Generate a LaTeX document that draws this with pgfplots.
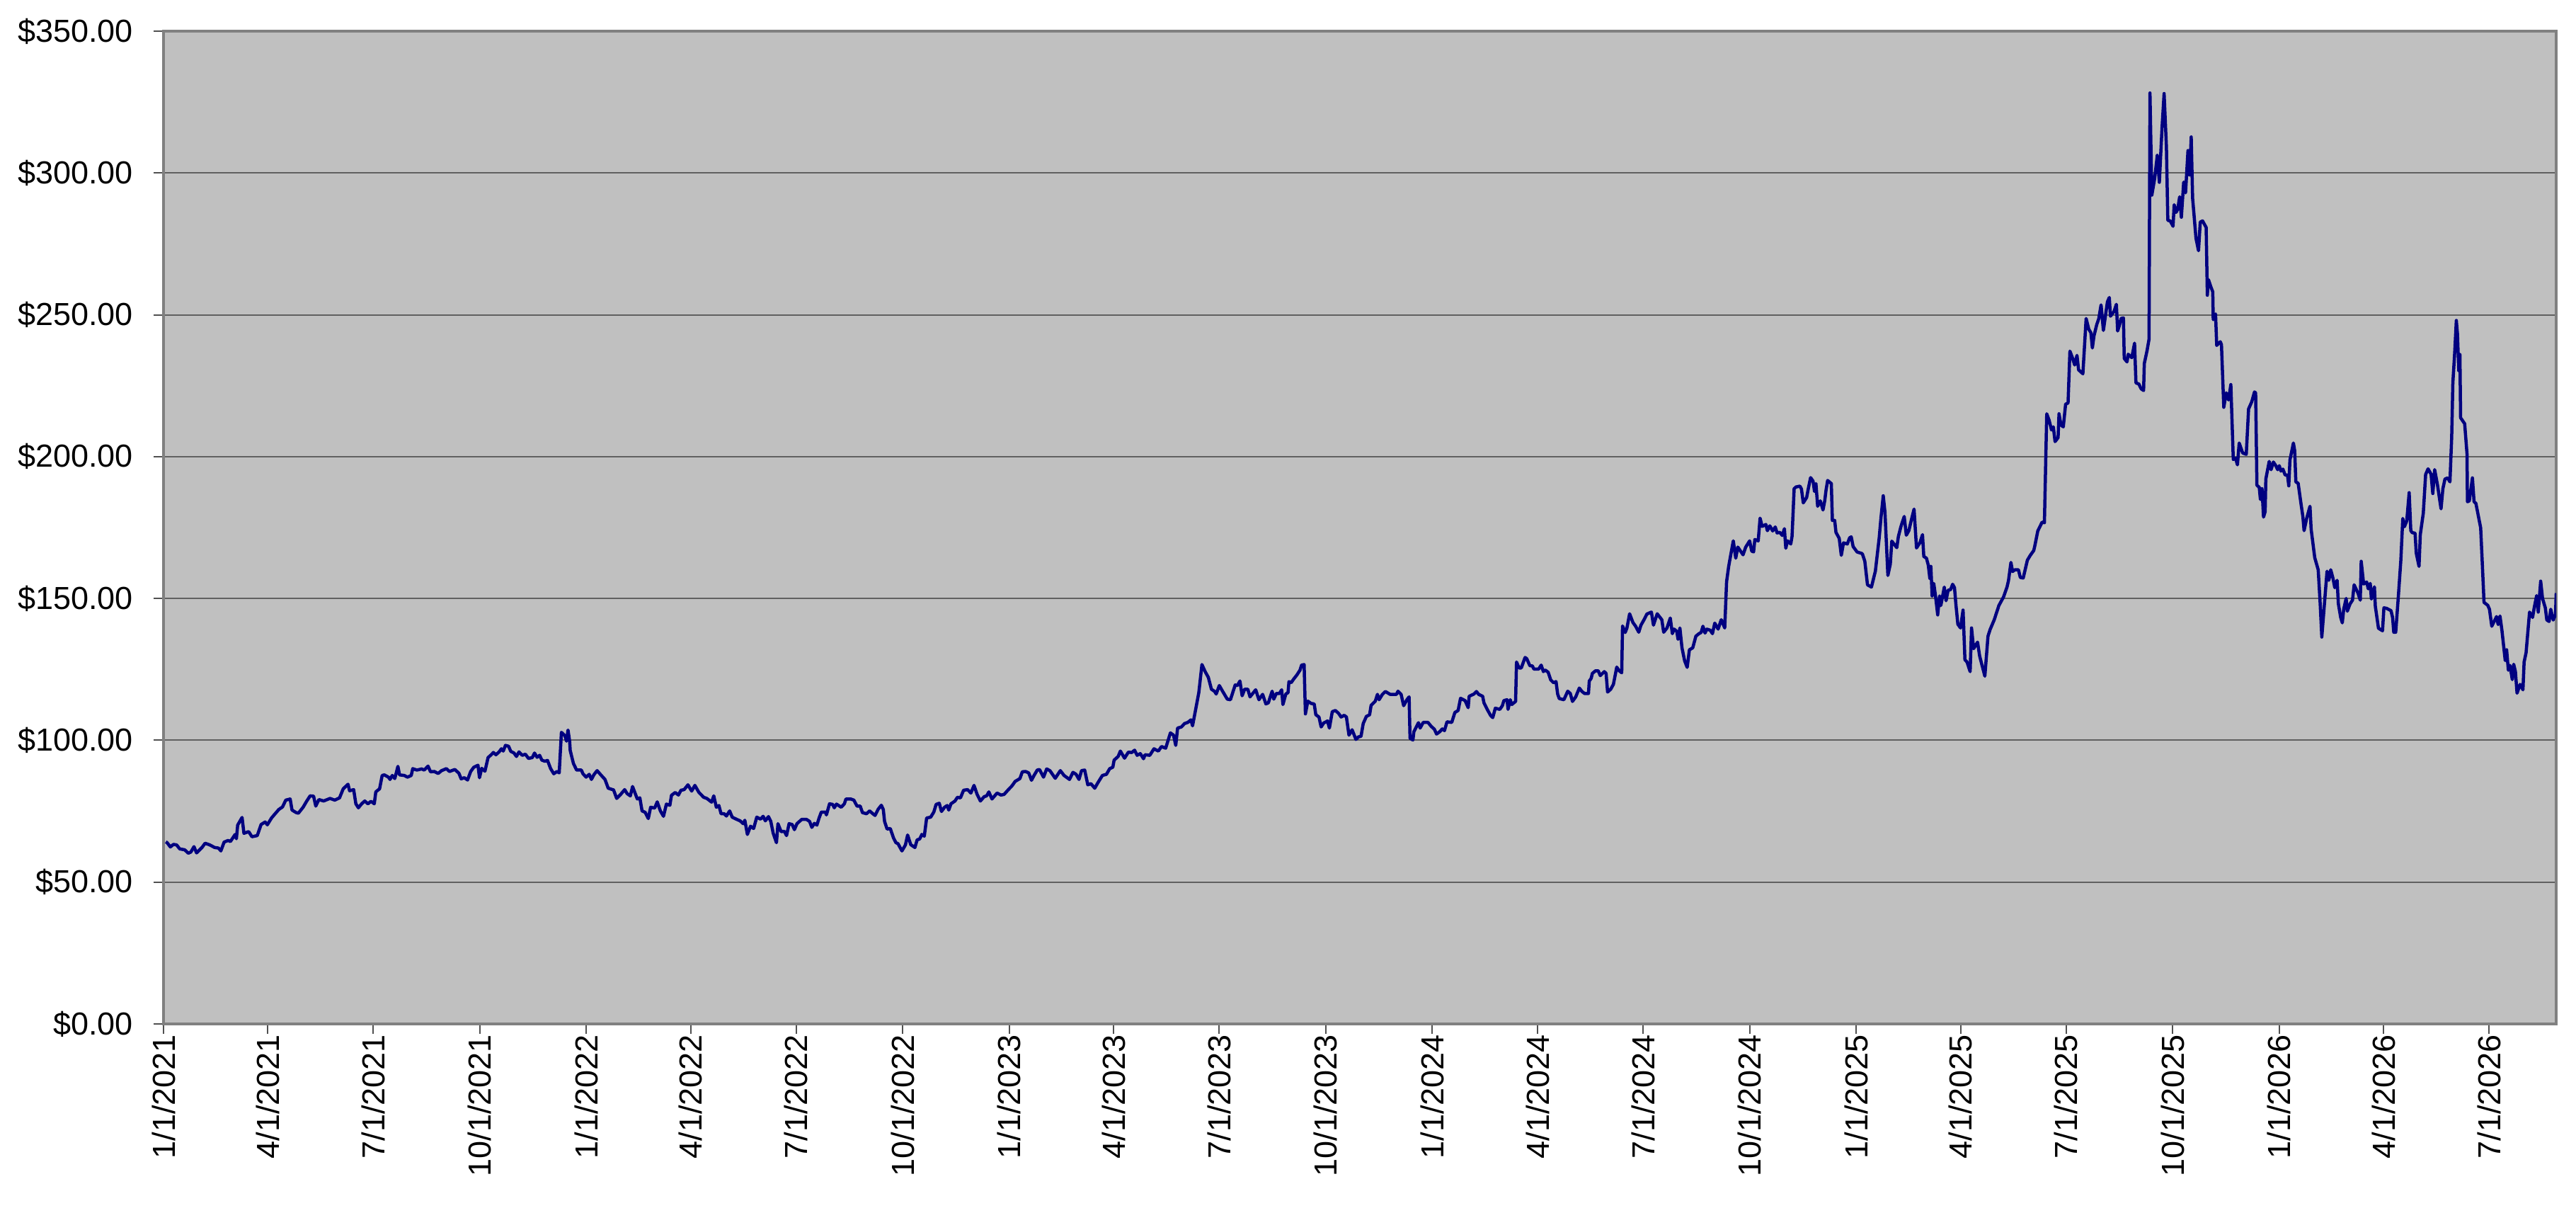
\documentclass[border=0pt]{standalone}
\usepackage{fontspec}
\setmainfont{Liberation Sans}
\usepackage{pgfplots}
\pgfplotsset{compat=1.18}
\definecolor{plotbg}{RGB}{192,192,192}
\definecolor{navyline}{RGB}{0,0,128}
\definecolor{gridc}{RGB}{96,96,96}
\definecolor{framec}{RGB}{128,128,128}
\definecolor{tickc}{RGB}{80,80,80}
\begin{document}
\begin{tikzpicture}
\begin{axis}[
  scale only axis, width=676pt, height=280.4pt,
  xmin=0, xmax=2065, ymin=0, ymax=350,
  axis background/.style={fill=plotbg},
  axis line style={draw=framec, line width=0.8pt},
  ymajorgrids, major grid style={draw=gridc, line width=0.4pt},
  ytick={0,50,...,350},
  xtick={0,90,181,273,365,455,546,638,730,820,911,1003,1095,1186,1277,1369,1461,1551,1642,1734,1826,1916,2007},
  xticklabels={1/1/2021,4/1/2021,7/1/2021,10/1/2021,1/1/2022,4/1/2022,7/1/2022,10/1/2022,1/1/2023,4/1/2023,7/1/2023,10/1/2023,1/1/2024,4/1/2024,7/1/2024,10/1/2024,1/1/2025,4/1/2025,7/1/2025,10/1/2025,1/1/2026,4/1/2026,7/1/2026},
  tick pos=left, tick align=outside,
  major tick length=2.8pt,
  tick style={draw=tickc, line width=0.4pt},
  /pgf/number format/assume math mode=true,
  yticklabel={\$\pgfmathprintnumber[fixed,fixed zerofill,precision=2]{\tick}},
  tick label style={font=\fontsize{9}{10.8}\selectfont, text=black},
  yticklabel style={inner sep=0pt, anchor=east, xshift=-5.6pt},
  xticklabel style={inner sep=0pt, rotate=90, anchor=east, yshift=0pt},
]
\coordinate (sw) at (rel axis cs:0,0);
\addplot[navyline, line width=0.9pt, line join=round] coordinates {
(2,64.2)(3.1,63.9)(5.9,62.4)(8.6,63.3)(11.3,63.1)(14,61.7)(18.2,61.4)(21.4,60.2)(23.6,60.6)(26.3,62.5)(28.5,60.3)(33.2,62.2)(35.9,63.7)(40,63.1)(44.1,62.2)(47.4,62)(49.5,61)(52.3,64.1)(55.8,64.7)(57.7,64.3)(61.8,66.8)(62.9,65.3)(64,70.1)(67.8,72.8)(69.4,67.2)(73.5,67.8)(76.3,66)(80.9,66.4)(84.2,70.3)(87.7,71.2)(89.6,70.2)(93.2,72.6)(95.9,73.9)(99.5,75.6)(102.7,76.5)(105.5,78.9)(107.4,79.1)(109.3,79.3)(110.9,75.4)(114.5,74.5)(116.4,74.3)(120.5,76.4)(123.2,78.3)(126.5,80.4)(129.5,80.3)(131.4,76.8)(134.1,79.1)(138.2,78.6)(143.7,79.5)(147.8,78.9)(151.9,79.7)(155.1,82.9)(159.2,84.5)(160.6,82.2)(164.1,82.6)(166,77.6)(168.2,76.2)(171,77.6)(173.7,78.6)(176.4,77.6)(179.1,78.5)(181.9,77.6)(183.2,81.8)(186.5,82.9)(188.7,87.6)(190.6,87.8)(194.1,87)(195.5,86.2)(197.4,87.6)(199.6,86.5)(202.3,90.8)(203.7,87.8)(207.8,87.6)(210.5,87)(213.8,87.6)(215.1,90)(218.7,89.5)(222.8,89.9)(225,89.5)(228.3,90.9)(230.4,88.9)(233.7,89)(237,88.3)(240,89.3)(244.1,90)(246.8,89)(251.4,89.7)(254.9,88.4)(256.9,86.4)(259.6,86.8)(262.4,86)(265.1,89)(267.8,90.5)(271.4,91.2)(272.7,86.8)(274.6,90.1)(277.4,89.1)(280.1,93.9)(282.8,94.9)(284.7,95.7)(286.9,94.9)(289.6,95.9)(291.6,97)(293.2,96.2)(295.1,98.2)(297.8,97.9)(299.7,96.1)(302.5,95.5)(304.6,94.3)(306.8,95.9)(309.6,94.7)(312.3,95.1)(315,93.6)(318.3,93.9)(320.2,95.5)(322.4,94)(324.6,94.7)(326.5,93)(329.2,92.6)(331.4,92.9)(334.1,90)(336.8,88.2)(339.6,89)(341.5,88.5)(343.4,102.8)(346.4,101.6)(347.8,99.7)(349.1,103.6)(350.5,99.7)(351,96.4)(353.8,91.8)(356.5,89.5)(360.6,89.5)(362,88.2)(364.7,87)(367.4,88)(369.3,86.2)(371.5,87.9)(374.2,89.3)(377,88)(381,86.2)(383.8,83.1)(388.4,82.5)(391.1,79.5)(394.7,81)(398,82.6)(400.1,81.2)(402.9,80.4)(404.8,83.7)
(408.9,79.3)(411.1,79.7)(413,75.1)(415.7,74.6)(418.4,72.4)(420.4,76.4)(423.9,76.1)(426.1,78.3)(428.8,75.1)(431.5,73.2)(434,77.5)(437,77.1)(438.4,80.6)(441.6,81.6)(444.4,80.7)(446.6,82.4)(449.3,82.6)(452.6,84.3)(455.8,82.1)(458.6,84.1)(462.1,81.6)(466.2,79.9)(468.9,79.5)(473,78.2)(474.9,80.4)(477.1,76.4)(479.3,77)(481.2,74.1)(483.9,74.1)(485.8,73.3)(488.6,75.1)(490.8,72.9)(494.8,72.1)(497.6,71.6)(500.3,70.6)(501.7,71.8)(503.9,66.8)(506.6,69.7)(509.3,68.9)(512,72.9)(515.3,72.2)(517.5,73.2)(519.4,71.6)(522.1,73.1)(524.1,71.4)(526.2,67.2)(529,63.9)(530.3,70.6)(533,67.8)(535.8,67.9)(537.7,66.4)(539.9,70.6)(542.6,70.3)(544.5,68.5)(546.7,70.6)(550.8,72.1)(554.9,72.1)(557.6,71.4)(559.5,69.3)(561.7,70.7)(563.9,70.1)(565.8,72.6)(567.7,74.7)(571.3,74.7)(572.1,73.7)(574.8,77.6)(577.5,77.4)(578.9,76.2)(580.8,77.5)(584.9,76.4)(587.6,77.6)(589,79.3)(593.1,79.3)(595.8,78.9)(598.5,76.8)(601.3,76.8)(603.2,74.5)(606.7,74.1)(609.4,75.1)(612.2,74.1)(614.1,73.5)(616.8,75.7)(619.5,77.1)(621.2,75.6)(622.3,71.4)(624.5,68.7)(627.2,68.9)(630,65.6)(632.1,63.9)(634,63.5)(635.4,62.4)(637.3,61)(640.3,63.1)(642.2,66.6)(644.9,63.2)(648.5,62.2)(650.4,64.9)(652.6,65.2)(654.5,66.8)(656.6,66.2)(658.6,72.6)(662.1,72.9)(664.8,74.7)(666.8,77.4)(669.5,77.8)(671.4,74.9)(674.1,76.4)(676.3,77)(677.7,75.4)(679.6,77.6)(683.1,78.6)(685.2,79.9)(687.8,79.7)(690.5,82.4)(694,82.6)(696.8,81.4)(699.5,84.1)(702.2,80.9)(705,78.6)(708.2,80.1)(710.4,80.4)(712.3,81.8)(715,79.3)(719.4,81.4)(722.7,80.7)(725.4,80.9)(728.7,82.4)(732.2,83.9)(735,85.5)(739.1,86.5)(741.2,88.9)(744,89)(746.7,88.5)(749.1,85.9)(751.3,87.6)(754.1,89.5)(756,89.7)(759.5,87)(762.2,89.9)(765,89.3)(769.6,86.6)(774,89.3)(777.2,87.6)(781.9,86.2)(784.9,88.7)(787.6,88)(790.1,86.2)(792.3,89.3)(795,89.5)(797.7,84.3)(800.4,84.7)(803.7,83.1)
(806.2,84.9)(810.3,87.6)(813.8,88)(816.6,90)(819.3,90.5)(820.4,93)(823.9,94.3)(825.8,96.2)(829.4,93.7)(832.7,95.8)(835.7,95.7)(838.1,96.5)(840.3,94.7)(843,95.3)(845.8,93.5)(847.1,94.9)(851.2,94.7)(854.8,97)(858.6,96.2)(861.3,97.8)(864.9,97.2)(869,102.6)(871.7,101.8)(873.6,98.2)(875.2,104.3)(878.5,104.7)(881.2,105.9)(884,106.3)(886.7,107.2)(888.1,105.1)(890.8,110.9)(893.5,116.8)(896.2,126.7)(899,124.2)(901.7,122.2)(904.4,118)(907.2,117.2)(908.5,116.3)(911.2,119.3)(914,117.3)(918.1,114.5)(920.8,114.3)(924.9,119.5)(926.8,119.3)(929,120.9)(930.9,115.7)(933.1,118)(935.8,118)(937.7,115.3)(942.6,117.8)(945.4,114.3)(948.6,116.2)(951.4,112.8)(953.5,113.2)(956.8,117.3)(958.2,114.5)(960.4,116.5)(963.1,116.5)(965,117.8)(966.1,112.6)(968.6,116.3)(970.5,116.8)(971.3,120.7)(973.2,120.3)(975.4,121.6)(978.1,123)(980.8,124.7)(982.2,126.5)(984.4,126.7)(985.5,109.3)(987.6,113.8)(990.4,113)(993.1,112.8)(994.5,109)(997.2,108.2)(999.1,104.7)(1001.3,106.1)(1004.6,106.8)(1006.2,104.3)(1008.7,110.1)(1011.4,110.5)(1014.1,109.5)(1016.3,108.2)(1019,108.8)(1020.9,108.2)(1023.1,101.8)(1025.8,103.7)(1029.1,100.3)(1031.3,101.2)(1033.5,101.4)(1035.4,105.9)(1038.1,108.4)(1040.9,109)(1042.2,112.3)(1045.8,113.8)(1047.7,116.2)(1049.1,114.3)(1051.8,116.1)(1054.5,117.2)(1058.6,116.2)(1064.1,116.2)(1065.4,117.3)(1068.1,116.2)(1070.3,112.2)(1073.1,114.3)(1075,115.3)(1075.8,100.7)(1078.3,100.1)(1079.1,103)(1083.1,106.2)(1084.5,104.3)(1087.2,106.3)(1091.3,106.3)(1094.1,104.9)(1096.8,103.9)(1098.7,102.2)(1101.4,103)(1103.6,104)(1105.5,103.4)(1107.7,106.5)(1111.8,106.3)(1114.5,109.8)(1117.3,110.5)(1119.4,114.8)(1123.3,114)(1126,111.5)(1126.8,115.5)(1130.9,116.3)(1133.1,117.2)(1135,116.2)(1138.5,115.5)(1139.6,113.2)(1142.4,110.9)(1145.4,108.7)(1147.2,108)(1149.4,111.3)(1153.3,110.9)(1155.5,112.2)(1156.8,114)(1159.5,114.3)(1160.4,110.9)(1162.3,114.3)(1163.6,112.6)(1166.9,113.7)(1167.7,127.6)(1169.9,125.5)(1171.8,125.5)(1175.1,129.2)(1176.5,128.8)(1179.2,126.3)(1181.4,126.2)(1182.7,125.1)(1186.8,125.1)(1189,126.5)(1190.9,124.2)(1192.3,124.8)(1195,124)(1197.2,121.3)(1199.7,120.3)(1201.8,120.7)(1203.2,116.3)(1204.6,114.7)(1208.6,114.3)(1211.9,117.3)(1214.1,116.5)(1216,113.7)(1218.8,115.3)
(1221.9,118.4)(1224.2,117.2)(1226.4,116.5)(1229.8,116.5)(1230.5,120.9)(1232.1,121.8)(1233.2,123.6)(1235.9,124.5)(1238.2,124.5)(1240,122.8)(1243.4,124.2)(1245,123.6)(1246.3,117)(1249,118)(1251.3,119.7)(1252.9,123)(1254.2,125.8)(1256.3,124.5)(1258.5,123.8)(1259.2,140.3)(1261.5,138)(1263,139.6)(1265.3,144.6)(1268.2,141.5)(1270.5,140.2)(1273.2,138.1)(1275,140.5)(1278,142.7)(1280.2,144.5)(1284.1,145.2)(1285.9,140.6)(1289.1,144.6)(1293.1,142.5)(1294.7,138.1)(1297.6,139.6)(1300.4,143.1)(1302.2,137.6)(1303.7,139.2)(1306,138.4)(1307.1,135.6)(1308.7,139.6)(1310.5,132.6)(1312.8,128)(1315,125.7)(1316.9,131.9)(1319.8,132.6)(1322.5,136.7)(1325.2,137.6)(1327,138)(1328.6,140.2)(1330.4,137.8)(1332,139.2)(1334.9,138.8)(1336.8,137.6)(1338.8,141.3)(1341.7,139.2)(1344.4,142.5)(1347.4,139.6)(1349,155.9)(1350.8,161.3)(1352.6,165.4)(1354.8,170.3)(1356.9,164.2)(1358.7,168.1)(1363.2,165.4)(1365.5,168.1)(1368.9,170.3)(1370.7,166.7)(1372.3,166.4)(1373.4,170.8)(1376.3,170.3)(1377.9,178.3)(1379.7,175.4)(1382.9,176.1)(1384.2,173.9)(1386.3,175.6)(1388.8,173.8)(1391,175.2)(1392.6,173.1)(1394.9,173.3)(1397.1,172.2)(1398.9,174.6)(1400.1,167.7)(1401.6,170.3)(1404.4,169.2)(1405.5,171.9)(1407.3,188.7)(1408.9,189.3)(1412.3,189.6)(1413.6,188.6)(1415.2,183.7)(1418.1,185.6)(1419.7,189.1)(1421.5,192.6)(1423.6,191.4)(1424.9,187.7)(1426.1,190.5)(1427.6,182.5)(1429.9,184.4)(1432.2,181.2)(1433.7,184.4)(1434.8,188.1)(1436.2,191.6)(1439.4,190.5)(1440.3,177.5)(1442.3,177.5)(1443.4,173.3)(1446.2,171.2)(1448,165.2)(1449.9,169.6)(1453.2,169.2)(1455.2,171.4)(1456.6,171.7)(1458.2,168.3)(1461.6,166.4)(1466.1,165.8)(1468.3,163.1)(1470.6,154.8)(1474,154)(1477.4,159.6)(1480.7,171.3)(1482.3,178.7)(1484.2,186.2)(1485.7,180.4)(1488.2,158.1)(1490.3,162.1)(1491.6,170.2)(1495.9,167.9)(1497.3,171.9)(1499.5,175.4)(1502.3,178.9)(1504.1,172.3)(1506.3,173.9)(1508.6,177.9)(1510.8,181.5)(1512.9,167.8)(1515.8,169.6)(1518.1,172.5)(1519.2,164.8)(1521.5,164.2)(1523.1,161.7)(1524.4,157.1)(1525.3,161.3)(1526.4,150.9)(1527.8,155.3)(1529.4,150.6)(1531.2,144.2)(1532.8,150.9)(1533.9,147.5)(1536.9,154)(1538.4,149.2)(1540.2,152.9)(1542.3,153.1)(1544.1,155)(1545.7,153.8)(1547,147.5)(1548.6,140.9)(1550.9,139.6)(1553.1,145.9)(1554.7,128.4)(1556.5,127.6)(1559.2,124.2)(1560.4,139.6)(1562.2,132.3)(1565.6,134.6)(1567.4,129.7)(1571.9,122.6)(1574.6,136.7)(1576.4,139)
(1580,142.5)(1584,147.5)(1588,150.5)(1591,154)
(1592.3,156.3)(1594.4,162.7)(1595.8,159.5)(1597.8,160.1)(1600.9,160.1)(1602.5,157.4)(1605,157.2)(1608.6,163.5)(1611.1,165.2)(1614.1,166.9)(1615.1,168.7)(1617.6,173.8)(1621.3,176.9)(1623.3,176.7)(1625.3,215.1)(1627.4,212.8)(1629.4,209.4)(1631,210.5)(1632.5,205.3)(1635.1,206.7)(1635.9,215.1)(1637.6,211.1)(1639.6,210.5)(1641.6,218.5)(1643.7,218.9)(1645.3,237.2)(1647.7,234.6)(1649.4,232.3)(1651.4,235.7)(1652.8,230.6)(1656.5,229.2)(1659.3,248.7)(1661.6,244.9)(1663.4,243.7)(1664.7,238.3)(1666.1,242.6)(1668.5,246.6)(1670.2,248.6)(1672.2,253.5)(1674.2,244.5)(1676.3,250.6)(1677.7,254.6)(1679.3,256.1)(1680.3,249.5)(1683.4,251.2)(1685.4,253.7)(1686.5,244.3)(1688.1,246.4)(1689.5,248.7)(1691.5,248.9)(1692.2,234.6)(1694.6,233.4)(1695.6,236.1)(1698.7,234.9)(1701.1,240)(1702.3,226)(1704.8,225.6)(1706.8,223.9)(1708.9,223.3)(1709.5,232.8)(1711.9,237.4)(1713.6,241.4)(1714.4,328.2)(1716,292.2)(1718.4,297.9)(1720.7,306.2)(1722.5,296.7)(1724.8,315.9)(1726.6,328)(1728.6,309.1)(1729.8,283.3)(1731.9,283.1)(1734.3,281.2)(1735.3,288.8)(1736.9,286.1)(1738.4,287.3)(1740,291.6)(1741.5,284.4)(1743.5,296.8)(1745.1,293)(1747.2,307.9)(1748.6,299.3)(1750,312.7)(1751.2,291.1)(1752.7,283.9)(1754.1,277)(1756.3,272.6)(1757.8,282.7)(1759.8,283.1)(1762.9,280.8)(1763.9,256.9)(1764.9,262.4)(1767,259.8)(1768.6,258.1)(1769,248.3)(1771,250.3)(1772,239.2)(1775.1,240.5)(1776.1,239.5)(1778.1,217.4)(1780.2,222.5)(1782.2,220)(1784.2,225.4)(1786.3,199)(1788.3,199.4)(1789.9,197.1)(1791.4,204.8)(1794.4,201.3)(1797.5,200.8)(1799.5,216.8)(1802.2,219.3)(1804.6,222.8)(1805.6,222.5)(1806.7,189.9)
(1808.7,189.2)(1809.7,184.9)(1811.1,188.7)(1812.4,178.7)(1813.8,180.6)(1814.4,192.1)(1817.3,198.3)(1818.9,195.4)(1820.9,198.1)(1823,196.8)(1824.6,195.4)(1826,196.8)(1827.4,194.9)(1829.1,195.6)(1831.1,193.5)(1833.1,193.5)(1834.2,189.7)(1835.2,198.8)(1838.2,204.8)(1839.3,202.1)(1840.3,191.1)(1842.3,190.6)(1844.4,184.4)(1846.4,178.7)(1847.4,173.9)(1849.5,178)(1852.5,182.5)(1853.5,174.4)(1856.6,164.4)(1859.6,160.1)(1861.3,148.1)(1862.7,136.4)(1864.7,146.7)(1867.2,159.6)(1868.8,156.4)(1870.4,160.1)(1872.3,157.2)(1873.9,153.8)(1875.9,156.4)(1877,148.1)(1879,143.3)(1880.4,141.4)(1881.6,146.2)(1883.7,150)(1884.7,145.5)(1887.1,148.1)(1889.2,149.4)(1890.6,154.8)(1893.9,151.9)(1895.9,149.4)(1896.7,163.1)(1898.8,155.1)(1901.4,155.8)(1902.8,153.4)(1904.5,155.3)(1905.5,149.8)(1908.1,154.1)(1908.9,147.2)(1911.6,139.5)(1915.1,138.6)(1916.3,146.7)(1918.7,146.5)(1922.4,145.7)(1923.8,143.3)(1924.8,138.1)(1926.5,138.1)(1928.9,151.5)(1930.9,163.4)(1932.6,178.2)(1934,175.3)(1936,177.3)(1938.1,187.3)(1939.5,173.9)(1940.7,173.2)(1943.2,173)(1944.2,166)(1946.6,161.3)(1947.7,172.5)(1950.3,180.1)(1952.3,193.7)(1954.4,195.7)(1957,193.8)(1958.5,187)(1960.1,195.4)(1962.5,190.1)(1965.6,181.6)(1967.2,188.7)(1969,192.1)(1971.3,192.5)(1973.3,191.1)(1974.8,206.9)(1975.8,226)(1977.4,236.7)(1978.8,248)(1979.8,243.2)(1980.9,230.3)(1981.9,236)(1982.5,213.7)(1986,211.6)(1988,201.1)(1988.4,184.1)(1990,184.4)(1992.7,192.5)(1994.1,184.1)(1995.7,183.5)(1999.8,174.9)(2001.2,162.5)(2002.7,148.6)(2005.9,147.6)(2007.4,146.2)(2009.4,140.2)(2013.5,143.6)(2014.9,140.8)(2016.5,143.8)(2018.2,138.6)(2021,128.1)(2022.2,131.9)(2023.7,124.7)(2025.1,126.4)(2027.1,121.4)(2028.3,126.8)(2029.8,124.2)(2031.2,116.6)(2033.8,119.7)(2036.3,117.8)(2037.3,127.6)(2039,130.9)(2042,145.2)(2044.6,143.3)(2046.1,146.9)(2048.1,151)(2049.5,145.2)(2051.6,156.1)(2053.2,150)(2055.6,146.7)(2056.9,142.4)(2058.9,141.9)(2060.3,146.2)(2062.4,142.4)(2064.4,144.3)(2065,151.9)
};
\end{axis}
\pgfresetboundingbox
\path (sw) ++(-46.2pt,-58.2pt) rectangle ++(727.8pt,347.4pt);
\end{tikzpicture}
\end{document}
